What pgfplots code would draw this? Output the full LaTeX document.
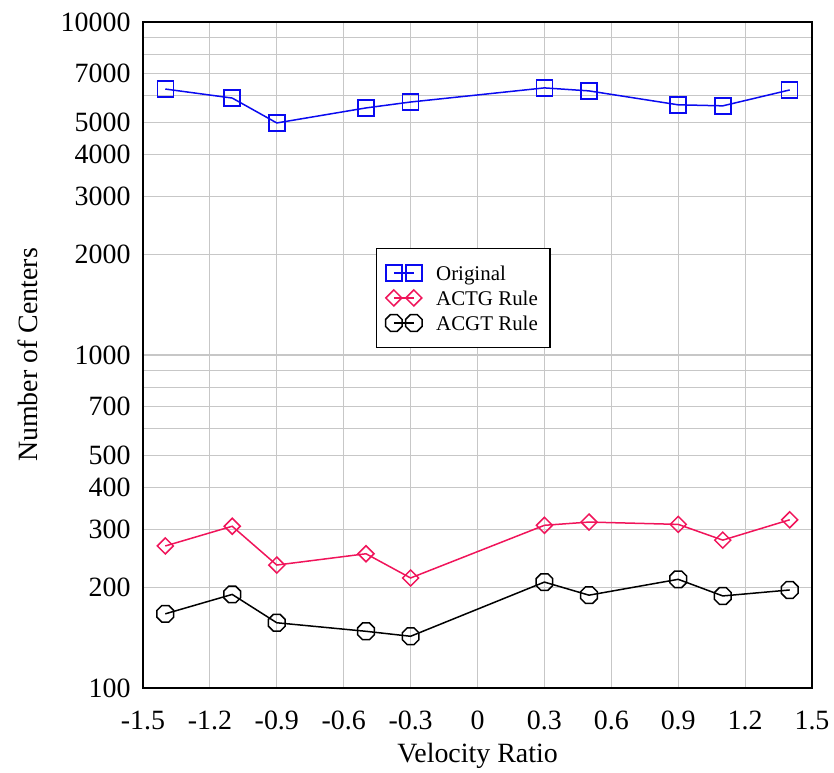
\documentclass[border=0pt]{standalone}
\usepackage{fontspec}
\setmainfont{Liberation Serif}
\usepackage{pgfplots}
\pgfplotsset{compat=1.18}
\definecolor{cblue}{RGB}{10,10,240}
\definecolor{cpink}{RGB}{240,20,90}
\pgfdeclareplotmark{rdiam}{%
  \pgfpathmoveto{\pgfqpoint{\pgfplotmarksize}{0pt}}%
  \pgfpathlineto{\pgfqpoint{0pt}{\pgfplotmarksize}}%
  \pgfpathlineto{\pgfqpoint{-\pgfplotmarksize}{0pt}}%
  \pgfpathlineto{\pgfqpoint{0pt}{-\pgfplotmarksize}}%
  \pgfpathclose\pgfusepathqstroke}
\pgfdeclareplotmark{oct}{%
  \pgfpathmoveto{\pgfpointpolar{22.5}{\pgfplotmarksize}}%
  \pgfpathlineto{\pgfpointpolar{67.5}{\pgfplotmarksize}}%
  \pgfpathlineto{\pgfpointpolar{112.5}{\pgfplotmarksize}}%
  \pgfpathlineto{\pgfpointpolar{157.5}{\pgfplotmarksize}}%
  \pgfpathlineto{\pgfpointpolar{202.5}{\pgfplotmarksize}}%
  \pgfpathlineto{\pgfpointpolar{247.5}{\pgfplotmarksize}}%
  \pgfpathlineto{\pgfpointpolar{292.5}{\pgfplotmarksize}}%
  \pgfpathlineto{\pgfpointpolar{337.5}{\pgfplotmarksize}}%
  \pgfpathclose\pgfusepathqstroke}
\begin{document}
\begin{tikzpicture}
\path[use as bounding box] (-143bp,-85bp) rectangle (691bp,688bp);
\begin{axis}[
  at={(0,0)}, anchor=south west,
  scale only axis, width=669bp, height=666bp,
  ymode=log, xmin=-1.5, xmax=1.5, ymin=100, ymax=10000,
  xtick={-1.5,-1.2,-0.9,-0.6,-0.3,0,0.3,0.6,0.9,1.2,1.5},
  xticklabels={-1.5,-1.2,-0.9,-0.6,-0.3,0,0.3,0.6,0.9,1.2,1.5},
  ytick={100,200,300,400,500,700,1000,2000,3000,4000,5000,7000,10000},
  yticklabels={100,200,300,400,500,700,1000,2000,3000,4000,5000,7000,10000},
  minor ytick={600,800,900,6000,8000,9000},
  xmajorgrids, ymajorgrids, yminorgrids,
  major grid style={draw=black!22, line width=1.2bp},
  minor grid style={draw=black!22, line width=1.2bp},
  major tick length=0pt, minor tick length=0pt,
  axis line style={line width=1.8bp},
  ticklabel style={font=\fontsize{28}{32}\selectfont},
  xticklabel style={anchor=base, yshift=-42bp},
  yticklabel style={xshift=-9bp},
  every axis x label/.style={at={(axis description cs:0.5,-0.1126)}, anchor=base, font=\fontsize{28}{32}\selectfont},
  every axis y label/.style={at={(axis description cs:-0.1584,0.5)}, anchor=base, rotate=90, font=\fontsize{28}{32}\selectfont},
  xlabel={Velocity Ratio}, ylabel={Number of Centers},
  legend style={at={(0.348,0.661)}, anchor=north west, draw=black, line width=1.4bp,
    font=\fontsize{21}{24}\selectfont, inner xsep=9bp, inner ysep=12bp,
    nodes={inner sep=3bp, text height=17bp, text depth=2bp},
    /tikz/every odd column/.style={column sep=11bp}},
  legend cell align=left,
  legend image code/.code={\draw[#1] plot coordinates {(0bp,0bp) (20bp,0bp)};},
  every axis plot/.append style={line width=1.5bp, mark size=8bp, mark options={solid}},
]
\addplot[cblue, mark=square] coordinates {
(-1.4,6290) (-1.1,5910) (-0.9,4975) (-0.5,5520) (-0.3,5750)
(0.3,6340) (0.5,6210) (0.9,5640) (1.1,5600) (1.4,6250)};
\addlegendentry{Original}
\addplot[cpink, mark=rdiam] coordinates {
(-1.4,267) (-1.1,306) (-0.9,234) (-0.5,253) (-0.3,214)
(0.3,308) (0.5,315) (0.9,310) (1.1,278) (1.4,320)};
\addlegendentry{ACTG Rule}
\addplot[black, mark=oct, mark size=9bp] coordinates {
(-1.4,167) (-1.1,191) (-0.9,157) (-0.5,148) (-0.3,143)
(0.3,208) (0.5,190) (0.9,212) (1.1,189) (1.4,197)};
\addlegendentry{ACGT Rule}
\end{axis}
\end{tikzpicture}
\end{document}
